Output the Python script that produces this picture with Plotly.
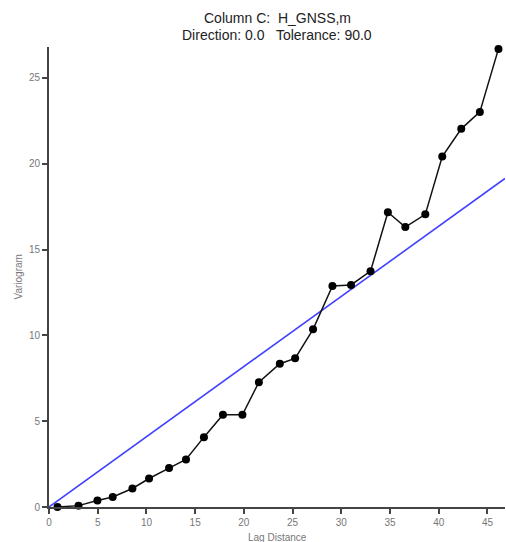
import plotly.graph_objects as go

lag_distance = [0.87, 3.03, 4.97, 6.54, 8.56, 10.27, 12.32, 14.06, 15.9, 17.85,
                19.85, 21.54, 23.69, 25.26, 27.1, 29.09, 31.0, 33.0, 34.78, 36.57,
                38.62, 40.36, 42.31, 44.22, 46.13]
variogram = [0.0, 0.08, 0.38, 0.58, 1.08, 1.66, 2.27, 2.77, 4.07, 5.37,
             5.37, 7.27, 8.35, 8.66, 10.35, 12.88, 12.94, 13.74, 17.17, 16.31,
             17.05, 20.42, 22.03, 23.02, 26.69]

# Linear model
model_slope = 0.409
x_max = 46.8
y_max = 26.8
model_x = [0, x_max]
model_y = [model_slope * v for v in model_x]

x_ticks = [0, 5, 10, 15, 20, 25, 30, 35, 40, 45]
y_ticks = [0, 5, 10, 15, 20, 25]

title_line1 = "Column C:&nbsp; H_GNSS,m"
title_line2 = "Direction: 0.0&nbsp;&nbsp; Tolerance: 90.0"

font_family = "Liberation Sans, Arial, sans-serif"

fig = go.Figure()
fig.add_trace(go.Scatter(
    x=model_x, y=model_y, mode="lines",
    line=dict(color="#4040ff", width=1.6), showlegend=False, cliponaxis=False))
fig.add_trace(go.Scatter(
    x=lag_distance, y=variogram, mode="lines+markers",
    line=dict(color="#111111", width=1.5),
    marker=dict(color="#000000", size=8),
    showlegend=False, cliponaxis=False))

axis_common = dict(
    showgrid=False, zeroline=False, showline=True, linecolor="#444444", linewidth=2,
    ticks="outside", ticklen=5, tickwidth=1.5, tickcolor="#444444",
    tickfont=dict(family=font_family, size=10, color="#777777"),
)

title_font = dict(family=font_family, size=14, color="#222222")
label_font = dict(family=font_family, size=10, color="#777777")

fig.update_layout(
    width=506, height=542,
    margin=dict(l=49, r=1, t=47, b=35),
    paper_bgcolor="white", plot_bgcolor="white",
    font=dict(family=font_family),
    xaxis=dict(range=[0, x_max], tickvals=x_ticks, **axis_common),
    yaxis=dict(range=[0, y_max], tickvals=y_ticks, **axis_common),
    annotations=[
        dict(text=title_line1, xref="paper", yref="paper", x=0.5, y=1.063,
             xanchor="center", yanchor="middle", showarrow=False, font=title_font),
        dict(text=title_line2, xref="paper", yref="paper", x=0.5, y=1.026,
             xanchor="center", yanchor="middle", showarrow=False, font=title_font),
        dict(text="Lag Distance", xref="paper", yref="paper", x=0.5, y=-0.067,
             xanchor="center", yanchor="middle", showarrow=False, font=label_font),
        dict(text="Variogram", xref="paper", yref="paper", x=-0.069, y=0.5,
             xanchor="center", yanchor="middle", textangle=-90, showarrow=False,
             font=label_font),
    ],
)

fig.write_html("out.html", config={"displayModeBar": False},
               post_script="document.body.style.margin='0';document.body.style.overflow='hidden';")
